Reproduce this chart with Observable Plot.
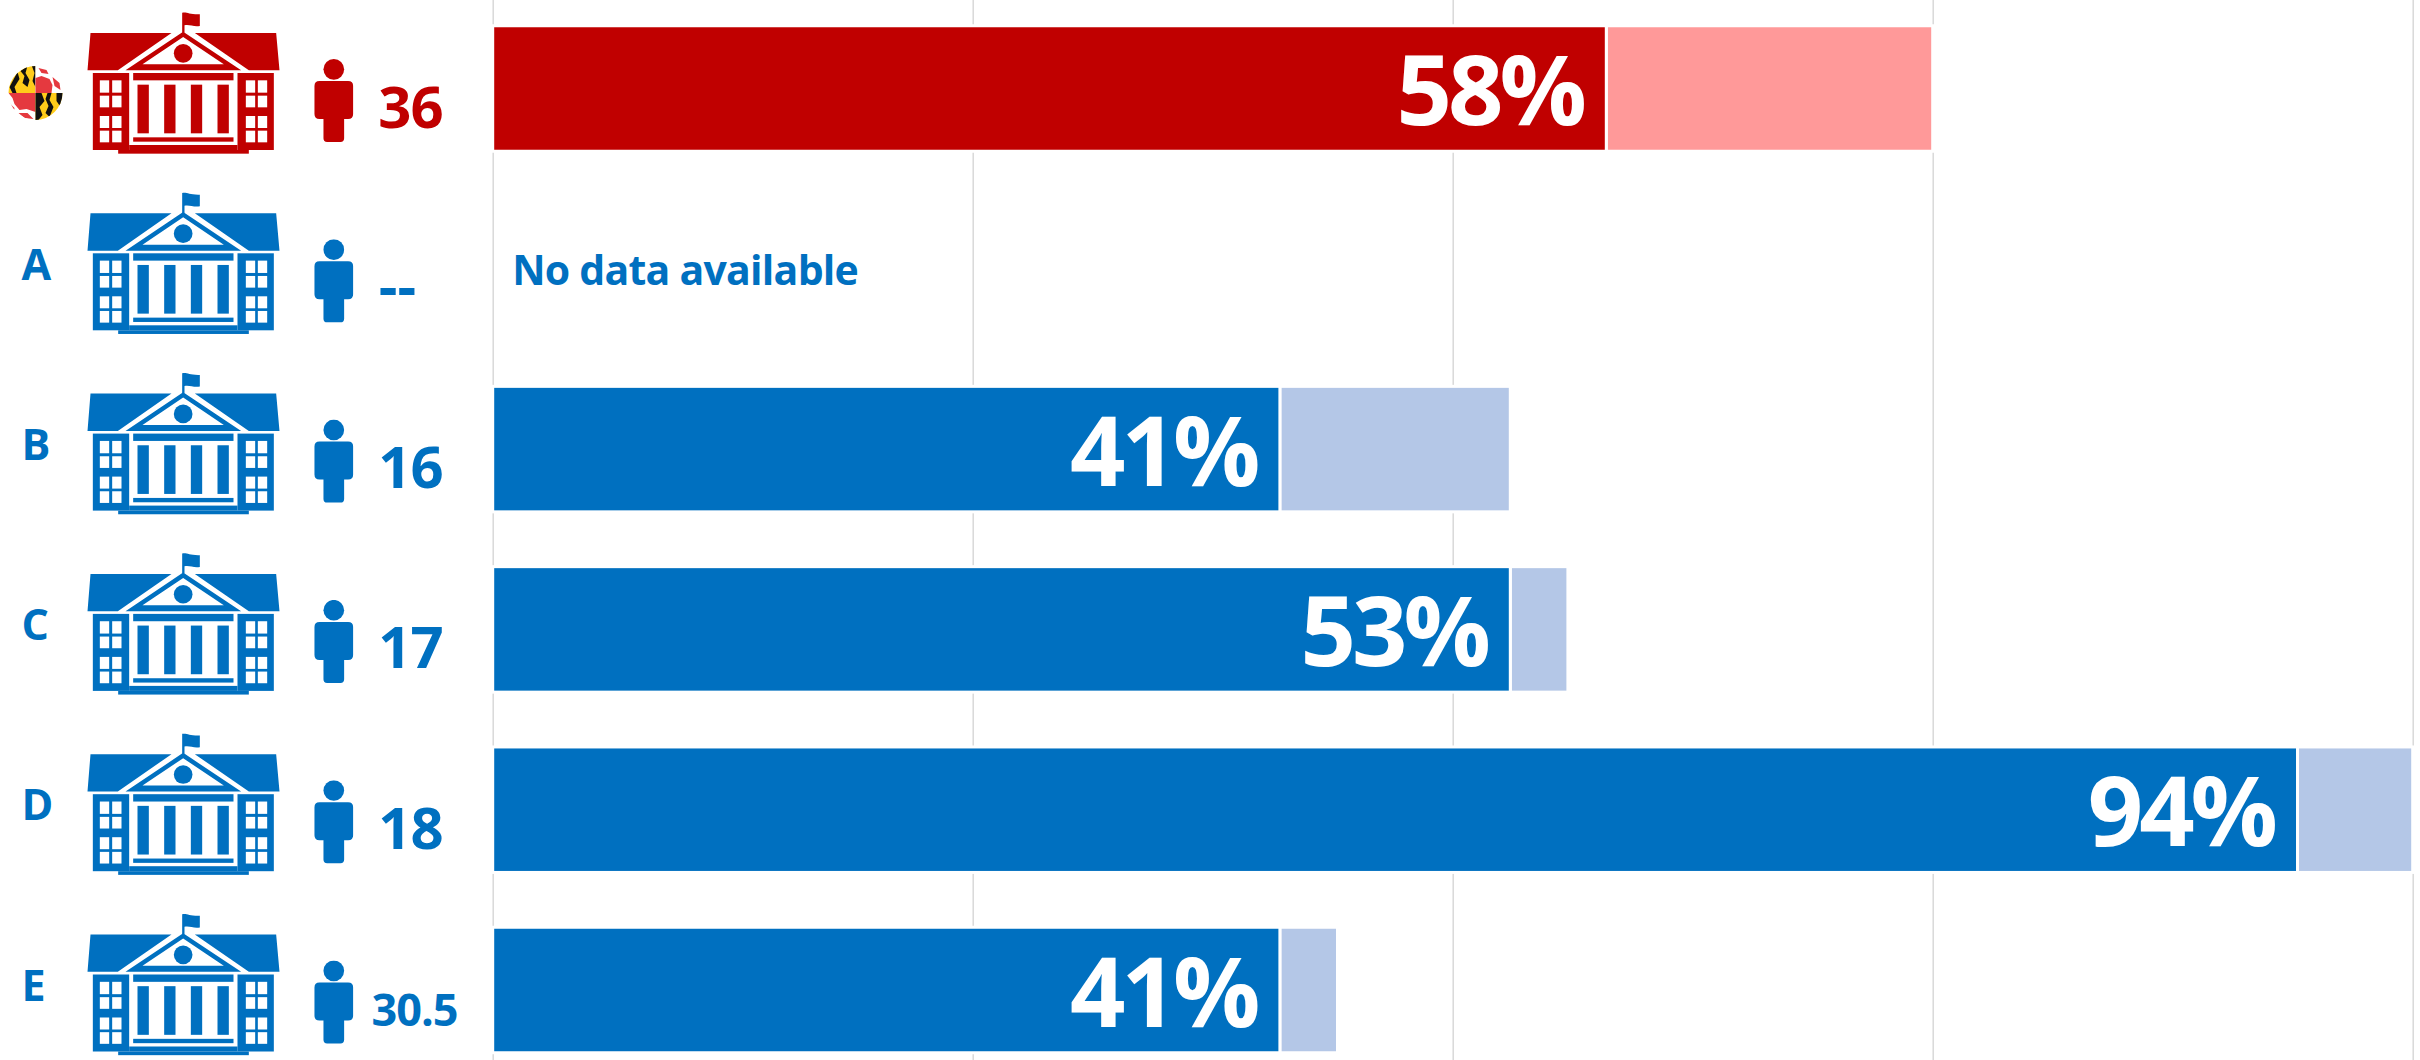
<!DOCTYPE html>
<html>
<head>
<meta charset="utf-8">
<script src="https://cdn.jsdelivr.net/npm/d3@7"></script>
<script src="https://cdn.jsdelivr.net/npm/@observablehq/plot@0.6"></script>
<style>
html,body{margin:0;padding:0;background:#fff}
svg{display:block}
.pct{letter-spacing:-4px}
.nodata{letter-spacing:-0.75px}
.count{letter-spacing:-1px}
</style>
</head>
<body>
<div id="chart"></div>
<script>
const schools = ["UMD", "A", "B", "C", "D", "E"];
const rowLabels = ["", "A", "B", "C", "D", "E"];
const facultyCounts = ["36", "--", "16", "17", "18", "30.5"];
const firstShare = [58, null, 41, 53, 94, 41];
const extraShare = [17, null, 12, 3, 6, 3];
const gridTicks = [0, 25, 50, 75, 100];
const darkColors = ["#C00000", "#0070C0", "#0070C0", "#0070C0", "#0070C0", "#0070C0"];
const lightColors = ["#FF9999", "#B4C7E7", "#B4C7E7", "#B4C7E7", "#B4C7E7", "#B4C7E7"];
const noDataText = "No data available";

const rows = schools.map((id, i) => ({
  id, label: rowLabels[i], count: facultyCounts[i],
  first: firstShare[i], extra: extraShare[i],
  dark: darkColors[i], light: lightColors[i]
}));
const withData = rows.filter(d => d.first != null);

function uri(svg) { return "data:image/svg+xml;utf8," + encodeURIComponent(svg); }

function buildingIcon(c) {
  const r = (x1, y1, x2, y2, f) => `<rect x="${x1}" y="${y1}" width="${x2 - x1}" height="${y2 - y1}" fill="${f}"/>`;
  let s = `<svg xmlns="http://www.w3.org/2000/svg" width="210" height="160" viewBox="0 0 630 480">`;
  s += `<path fill="${c}" d="M305 95V35c15-3 20 6 53 5v35c-20 3-30-5-46-2v22z"/>`;
  s += `<path fill="${c}" d="M30 96H273L112 208H21zM343 96H587L597 208H505z"/>`;
  s += `<path fill="${c}" fill-rule="evenodd" d="M308 92L482 208H135zM308 108L186 190H430z"/>`;
  s += `<circle cx="308" cy="157" r="28" fill="${c}"/>`;
  s += r(37, 216, 146, 447, c) + r(471, 216, 580, 447, c) + r(146, 432, 471, 447, c) + r(113, 447, 505, 458, c);
  s += r(158, 216, 459, 238, c) + r(158, 409, 459, 422, c);
  for (const x of [171, 251, 331, 411]) s += r(x, 251, x + 34, 397, c);
  for (const x of [58, 95, 496, 532]) for (const y of [[238, 275], [284, 319], [345, 381], [389, 424]]) s += r(x, y[0], x + 28, y[1], "#fff");
  return uri(s + "</svg>");
}

function personIcon(c) {
  return uri(`<svg xmlns="http://www.w3.org/2000/svg" width="40" height="84" viewBox="0 0 120 252">` +
    `<circle cx="60" cy="31" r="31" fill="${c}"/>` +
    `<path fill="${c}" d="M17 66H103Q118 66 118 81V165Q118 180 103 180H91V238Q91 249 80 249H40Q29 249 29 238V180H17Q2 180 2 165V81Q2 66 17 66z"/></svg>`);
}

function globeIcon() {
  const gold = "#FFCC1A", blk = "#111", red = "#E5393F";
  return uri(`<svg xmlns="http://www.w3.org/2000/svg" width="60" height="60" viewBox="0 0 60 60">
    <defs><clipPath id="g"><circle cx="30" cy="30" r="27"/></clipPath></defs>
    <g clip-path="url(#g)">
      <rect x="0" y="0" width="30" height="30" fill="${gold}"/>
      <path fill="${blk}" d="M4 24L12 9L14 16L9 24L11 30H7zM15 8L22 3L20 10L24 17L22 24L17 20L19 13zM26 2H30V24L27 18L29 10z"/>
      <rect x="30" y="0" width="30" height="30" fill="#fff"/>
      <path fill="${red}" d="M30 15L36 13L44 16L47 22L46 30H30z"/>
      <path fill="${red}" d="M33 5L41 7L43 11L36 10zM47 14L54 20L55 27L49 23z"/>
      <rect x="0" y="30" width="30" height="30" fill="#fff"/>
      <path fill="${red}" d="M3 30H30V49L21 46L14 47L9 41L7 35z"/>
      <path fill="${red}" d="M4 40L9 45L8 50zM13 50L22 50L28 56L19 55z"/>
      <rect x="30" y="30" width="30" height="30" fill="${gold}"/>
      <path fill="${blk}" d="M30 30H36L39 38L34 44L37 52L33 57H30zM42 30H46L44 37L48 44L44 54L40 50L43 43L40 36zM51 30H58L55 44L51 38z"/>
    </g></svg>`);
}

const font = "'Open Sans', sans-serif";

const plot = Plot.plot({
  width: 2420,
  height: 1060,
  marginTop: 0, marginBottom: 0, marginLeft: 0, marginRight: 0,
  style: {fontFamily: font, background: "#fff"},
  x: {domain: [0, 100], range: [492.7, 2412.7], axis: null},
  y: {type: "band", domain: schools, range: [-1.65, 1080.15], paddingInner: 0.304, paddingOuter: 0.152, round: false, axis: null},
  marks: [
    Plot.ruleX(gridTicks, {stroke: "#d9d9d9", strokeWidth: 1.5}),
    Plot.barX(withData, {x1: d => d.first, x2: d => d.first + d.extra, y: "id", fill: d => d.light, stroke: "#fff", strokeWidth: 3}),
    Plot.barX(withData, {x1: () => 0, x2: d => d.first, y: "id", fill: d => d.dark, stroke: "#fff", strokeWidth: 3}),
    Plot.text(withData, {x: "first", y: "id", text: d => d.first + "%", fill: "#fff", fontSize: 97, fontWeight: 700, textAnchor: "end", dx: -24, dy: 5, className: "pct"}),
    Plot.text(rows.filter(d => d.first == null), {x: () => 0, y: "id", text: () => noDataText, fill: d => d.dark, fontSize: 41, fontWeight: 700, textAnchor: "start", dx: 19, dy: 3, className: "nodata"}),
    Plot.text(rows.filter(d => d.label), {y: "id", text: "label", fill: d => d.dark, frameAnchor: "left", fontSize: 43, fontWeight: 700, textAnchor: "start", dx: 21, dy: -3.5}),
    Plot.image(rows, {y: "id", src: d => buildingIcon(d.dark), frameAnchor: "left", dx: 185, dy: -8, width: 210, height: 160}),
    Plot.image(rows, {y: "id", src: d => personIcon(d.dark), frameAnchor: "left", dx: 333.3, dy: 12, width: 40, height: 84}),
    Plot.image(rows.filter(d => !d.label), {y: "id", src: () => globeIcon(), frameAnchor: "left", dx: 35, dy: 4, width: 60, height: 60}),
    Plot.text(rows.filter(d => d.count.length === 2 && d.count !== "--"), {y: "id", text: "count", fill: d => d.dark, frameAnchor: "left", fontSize: 58, fontWeight: 700, textAnchor: "middle", dx: 410, dy: 20, className: "count"}),
    Plot.text(rows.filter(d => d.count === "--"), {y: "id", text: "count", fill: d => d.dark, frameAnchor: "left", fontSize: 58, fontWeight: 700, textAnchor: "middle", dx: 397, dy: 19}),
    Plot.text(rows.filter(d => d.count.length > 2), {y: "id", text: "count", fill: d => d.dark, frameAnchor: "left", fontSize: 45, fontWeight: 700, textAnchor: "middle", dx: 414, dy: 21, className: "count"}),
  ]
});
document.getElementById("chart").append(plot);
</script>
</body>
</html>
